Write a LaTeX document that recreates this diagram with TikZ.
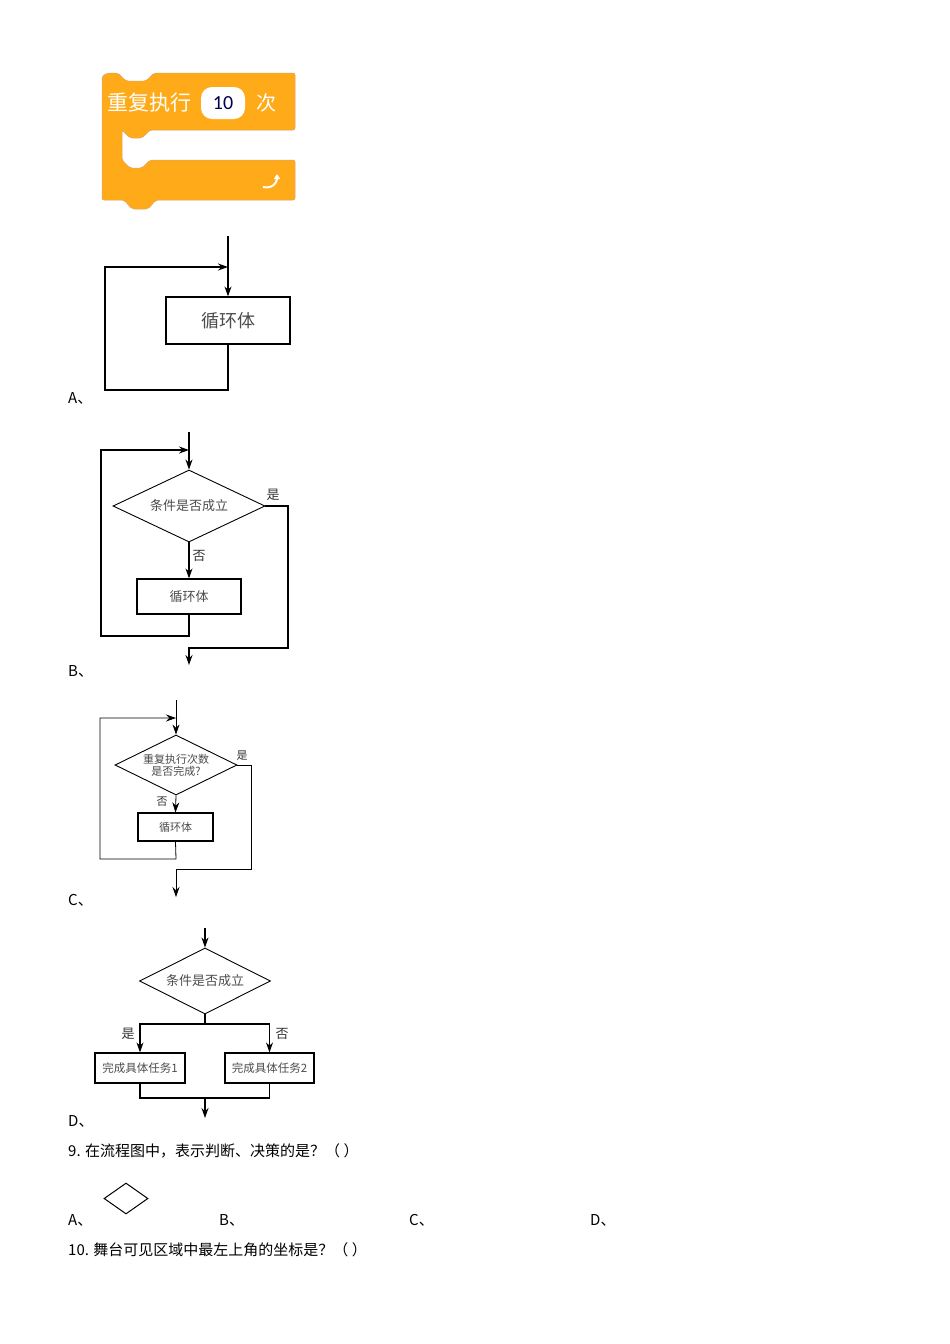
\documentclass[tikz,border=0pt]{standalone}
\usepackage{fontspec}
\setmainfont{Carlito}
\newfontfamily\cjk{Noto Sans CJK SC}
\usetikzlibrary{arrows.meta,shapes.geometric}
\definecolor{scr}{HTML}{FFAB19}
\begin{document}
\begin{tikzpicture}[x=1pt,y=-1pt,
  ln/.style={line width=1.2pt},
  ar/.style={ln,-{Stealth[length=10pt,width=7pt]}},
  bx/.style={draw,line width=1.2pt,minimum width=#1,inner sep=0pt,font=\cjk\fontsize{13}{15}\selectfont,text=black!70},
  dm/.style={draw,diamond,aspect=2.1,line width=0.9pt,inner sep=0pt,font=\cjk\fontsize{13}{15}\selectfont,text=black!70,align=center},
  lb/.style={font=\cjk\fontsize{15}{17}\selectfont,anchor=west,inner sep=0pt},
  sm/.style={font=\cjk\fontsize{13}{15}\selectfont,inner sep=0pt,text=black!80}]
\useasboundingbox[fill=white] (0,0) rectangle (950,1344);
% Scratch block
\fill[scr,draw=orange!80!black!60,line width=0.5pt,rounded corners=2pt]
 (102,76)--(108,73)--(118,73)--(126,81)--(146,81)--(154,73)--(295,73)--(295,130)--(150,130)--(142,138)--(130,138)--(122,130)--(122,160)--(130,168)--(142,168)--(150,160)--(295,160)--(295,200)--(156,200)--(148,209)--(132,209)--(124,200)--(102,200)--cycle;
\node[font=\cjk\fontsize{21}{23}\selectfont,text=white,anchor=west,inner sep=0pt] (t1) at (107,103) {重复执行};
\node[fill=white,rounded corners=11pt,minimum width=44pt,minimum height=32pt,font=\fontsize{20}{22}\selectfont,text=blue!30!black] (n10) at (223,103) {10};
\node[font=\cjk\fontsize{20}{22}\selectfont,text=white,inner sep=0pt] (t2) at (266,103) {次};
\coordinate (ic) at (272,181);
\draw[white,line width=2pt,-{Triangle[length=5pt,width=6pt]}] (263,187) .. controls (272,189) and (277,183) .. (277,174);
% A
\coordinate (a0) at (228,236);
\node[bx=124pt,minimum height=47pt,font=\cjk\fontsize{18}{20}\selectfont] (ab) at (228,320.5) {循环体};
\draw[ar] (a0)--(ab.north);
\coordinate (a1) at (228,267);
\draw[ar] (ab.south)--(228,390)--(105,390)--(105,267)--(a1);
\node[lb] (la) at (68,398) {A、};
% B
\coordinate (b0) at (189,432);
\node[dm,minimum width=152pt,minimum height=72pt] (bd) at (189,506) {条件是否成立};
\node[bx=104pt,minimum height=35pt] (bb) at (189,596.5) {循环体};
\draw[ar] (b0)--(bd.north);
\draw[ar] (bd.south)--(bb.north);
\coordinate (b1) at (189,450);
\draw[ar] (bb.south)--(189,636)--(101,636)--(101,450)--(b1);
\coordinate (b2) at (189,665);
\draw[ar] (bd.east)--(288,506)--(288,648)--(189,648)--(b2);
\node[sm] (bs) at (273,495) {是};
\node[sm] (bf) at (199,556) {否};
\node[lb] (lbB) at (68,671) {B、};
% C
\coordinate (c0) at (176,700);
\node[dm,minimum width=122pt,minimum height=60pt,font=\cjk\fontsize{11}{12}\selectfont] (cd) at (176,765) {重复执行次数\\是否完成?};
\node[bx=75pt,minimum height=28pt,font=\cjk\fontsize{11}{12}\selectfont] (cb) at (175.5,827) {循环体};
\draw[ar,line width=0.8pt] (c0)--(cd.north);
\draw[ar,line width=0.8pt] (cd.south)--(cb.north);
\coordinate (c1) at (176,718);
\draw[ar,line width=0.8pt] (cb.south)--(176,859)--(100,859)--(100,718)--(c1);
\coordinate (c2) at (176,897);
\draw[ar,line width=0.8pt] (cd.east)--(251,765)--(251,869)--(176,869)--(c2);
\node[sm,font=\cjk\fontsize{11}{12}\selectfont] (cs) at (242,756) {是};
\node[sm,font=\cjk\fontsize{11}{12}\selectfont] (cf) at (162,802) {否};
\node[lb] (lc) at (68,900) {C、};
% D
\coordinate (d0) at (205,928);
\node[dm,minimum width=131pt,minimum height=66pt] (dd) at (205,981) {条件是否成立};
\node[bx=90pt,minimum height=30pt,font=\cjk\fontsize{11.5}{13}\selectfont] (d1) at (140,1068) {完成具体任务1};
\node[bx=89pt,minimum height=30pt,font=\cjk\fontsize{11.5}{13}\selectfont] (d2) at (269.5,1068) {完成具体任务2};
\draw[ar] (d0)--(dd.north);
\draw[ln] (dd.south)--(205,1024);
\draw[ar] (205,1024)--(140,1024)--(d1.north);
\draw[ar] (205,1024)--(269.5,1024)--(d2.north);
\draw[ln] (d1.south)--(140,1098)--(269.5,1098)--(d2.south);
\coordinate (d3) at (205,1118);
\draw[ar] (205,1098)--(d3);
\node[sm] (ds) at (128,1034) {是};
\node[sm] (df) at (282,1034) {否};
\node[lb] (ld) at (68,1121) {D、};
% Q9
\node[lb] (q9) at (68,1151) {9. 在流程图中，表示判断、决策的是？（ ）};
\node[draw,diamond,aspect=1.4,minimum width=44pt,minimum height=31pt,inner sep=0pt,line width=1pt] (sd) at (126,1198.5) {};
\node[lb] (oa) at (68,1220) {A、};
\node[lb] (ob) at (219,1220) {B、};
\node[lb] (oc) at (409,1220) {C、};
\node[lb] (od) at (590,1220) {D、};
\node[lb] (q10) at (68,1250) {10. 舞台可见区域中最左上角的坐标是？（ ）};
\end{tikzpicture}
\end{document}
